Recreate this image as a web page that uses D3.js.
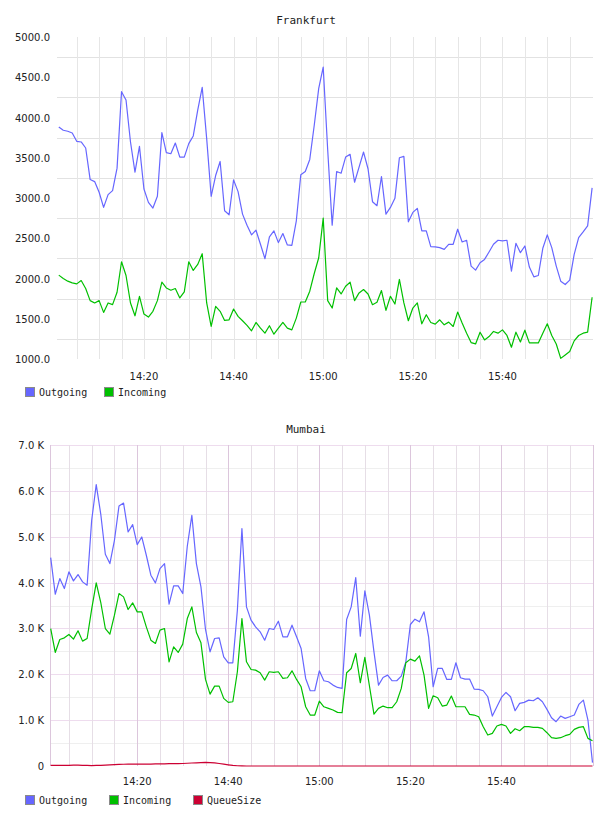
<!DOCTYPE html>
<html>
<head>
<meta charset="utf-8">
<script src="https://cdn.jsdelivr.net/npm/d3@7/dist/d3.min.js"></script>
<style>
body { margin: 0; background: #fff; }
</style>
</head>
<body>
<svg id="chart"></svg>
<script>
var parseTime = d3.utcParse("%H:%M:%S");

// one sample per minute, 14:01 .. 16:00
var sampleTimes = d3.utcMinute.range(parseTime("14:01:00"), parseTime("16:01:00"));
var timeLabels = ["14:20", "14:40", "15:00", "15:20", "15:40"];

var frankfurtTicks = [1000, 1500, 2000, 2500, 3000, 3500, 4000, 4500, 5000];
var frankfurtGrid = [1250, 1750, 2250, 2750, 3250, 3750, 4250, 4750];
var mumbaiTicks = [0, 1000, 2000, 3000, 4000, 5000, 6000, 7000];
var mumbaiMinorGrid = [500, 1500, 2500, 3500, 4500, 5500, 6500];

var frankfurtOutgoing = [
	3883, 3842, 3829, 3808, 3704, 3696, 3621, 3229, 3204, 3071,
	2883, 3042, 3092, 3371, 4321, 4217, 3696, 3321, 3642, 3112,
	2946, 2875, 3021, 3813, 3563, 3550, 3683, 3508, 3508, 3675,
	3771, 4092, 4375, 3738, 3021, 3279, 3454, 2842, 2792, 3225,
	3079, 2800, 2662, 2542, 2600, 2425, 2246, 2517, 2592, 2446,
	2558, 2417, 2412, 2717, 3288, 3329, 3479, 3904, 4362, 4625,
	3600, 2662, 3329, 3308, 3508, 3542, 3196, 3383, 3571, 3363,
	2954, 2904, 3267, 2800, 2883, 2996, 3500, 3517, 2704, 2821,
	2871, 2592, 2592, 2396, 2392, 2383, 2362, 2425, 2425, 2612,
	2454, 2475, 2154, 2104, 2196, 2237, 2329, 2425, 2475, 2467,
	2475, 2092, 2437, 2321, 2404, 2142, 2021, 2037, 2375, 2542,
	2383, 2154, 1967, 1925, 1979, 2300, 2508, 2579, 2654, 3125
];
var frankfurtIncoming = [
	2042, 2000, 1967, 1946, 1933, 1975, 1875, 1725, 1696, 1725,
	1579, 1696, 1675, 1829, 2208, 2037, 1696, 1537, 1779, 1558,
	1521, 1592, 1725, 1954, 1883, 1854, 1875, 1758, 1833, 2208,
	2100, 2175, 2308, 1696, 1404, 1654, 1592, 1479, 1487, 1621,
	1529, 1475, 1417, 1350, 1454, 1383, 1321, 1413, 1308, 1383,
	1454, 1383, 1362, 1508, 1708, 1708, 1842, 2062, 2258, 2750,
	1725, 1633, 1883, 1808, 1904, 1954, 1725, 1821, 1863, 1808,
	1675, 1704, 1850, 1604, 1779, 1683, 1988, 1696, 1475, 1633,
	1696, 1437, 1550, 1454, 1433, 1487, 1425, 1458, 1404, 1583,
	1446, 1321, 1204, 1187, 1333, 1237, 1279, 1342, 1321, 1362,
	1292, 1146, 1333, 1212, 1358, 1200, 1200, 1200, 1321, 1437,
	1292, 1187, 1008, 1050, 1092, 1225, 1292, 1321, 1333, 1767
];

var mumbaiOutgoing = [
	4545, 3746, 4087, 3870, 4233, 4037, 4175, 4015, 3942, 5358,
	6135, 5489, 4617, 4414, 4922, 5670, 5735, 5104, 5264, 4828,
	4995, 4596, 4160, 3993, 4305, 4414, 3528, 3928, 3928, 3761,
	4792, 5467, 4414, 3906, 2977, 2490, 2781, 2795, 2381, 2251,
	2251, 3398, 5176, 3470, 3180, 3035, 2926, 2744, 2998, 2977,
	3158, 2817, 2817, 3071, 2817, 2563, 1909, 1641, 1641, 2076,
	1859, 1837, 1764, 1713, 1692, 3194, 3470, 4109, 2831, 3819,
	3289, 2490, 1764, 1931, 1982, 1859, 1859, 1960, 2272, 3086,
	3202, 3144, 3361, 2817, 1728, 2127, 2127, 1888, 1888, 2251,
	1924, 1895, 1895, 1677, 1670, 1641, 1510, 1089, 1292, 1496,
	1604, 1510, 1205, 1365, 1387, 1437, 1423, 1488, 1401, 1234,
	1053, 966, 1089, 1038, 1074, 1111, 1343, 1437, 1002, 73
];
var mumbaiIncoming = [
	2998, 2476, 2759, 2795, 2868, 2766, 2948, 2723, 2781, 3419,
	3993, 3565, 2998, 2875, 3289, 3761, 3688, 3412, 3557, 3361,
	3361, 3035, 2744, 2672, 2962, 2998, 2272, 2599, 2476, 2657,
	3216, 3470, 2911, 2686, 1888, 1568, 1742, 1742, 1474, 1387,
	1401, 2055, 3216, 2272, 2105, 2091, 2033, 1873, 2055, 2040,
	2055, 1909, 1924, 2076, 1888, 1728, 1292, 1111, 1111, 1416,
	1292, 1256, 1220, 1169, 1162, 2033, 2127, 2454, 1815, 2367,
	1750, 1133, 1256, 1307, 1271, 1271, 1401, 1692, 2251, 2330,
	2287, 2403, 1982, 1256, 1532, 1488, 1307, 1329, 1525, 1292,
	1292, 1292, 1125, 1111, 1074, 857, 675, 711, 871, 908,
	871, 711, 813, 770, 857, 857, 842, 842, 820, 726,
	617, 603, 617, 661, 690, 799, 842, 857, 603, 552
];
var mumbaiQueueSize = [
	15, 15, 12, 12, 15, 18, 18, 15, 12, 10,
	12, 15, 20, 25, 30, 35, 38, 40, 42, 42,
	40, 40, 42, 45, 45, 48, 50, 50, 52, 55,
	60, 65, 70, 75, 78, 75, 68, 55, 40, 25,
	12, 5, 2, 0, 0, 0, 0, 0, 0, 0,
	0, 0, 0, 0, 0, 0, 0, 0, 0, 0,
	0, 0, 0, 0, 0, 0, 0, 0, 0, 0,
	0, 0, 0, 0, 0, 0, 0, 0, 0, 0,
	0, 0, 0, 0, 0, 0, 0, 0, 0, 0,
	0, 0, 0, 0, 0, 0, 0, 0, 0, 0,
	0, 0, 0, 0, 0, 0, 0, 0, 0, 0,
	0, 0, 0, 0, 0, 0, 0, 0, 0, 0
];

var colors = { Outgoing: "#6666ff", Incoming: "#00c000", QueueSize: "#cc0033" };

var svg = d3.select("#chart").attr("width", 608).attr("height", 816);

var crisp = function(v) { return Math.round(v) + 0.5; };

var drawSeries = function(g, x, y, values, color) {
	var line = d3.line()
		.x(function(d, i) { return x(sampleTimes[i]); })
		.y(function(d) { return y(d); });
	g.append("path").datum(values)
		.attr("d", line)
		.attr("fill", "none")
		.attr("stroke", color)
		.attr("stroke-width", 1.2)
		.attr("stroke-linejoin", "round");
};

var drawLegend = function(g, names, xs, yc) {
	names.forEach(function(name, i) {
		g.append("rect").attr("x", xs[i] + 0.5).attr("y", yc - 4.5)
			.attr("width", 9).attr("height", 9)
			.attr("fill", colors[name]).attr("stroke", "#8a8a8a");
		g.append("text").attr("x", xs[i] + 14).attr("y", yc + 3.5)
			.attr("font-family", "'DejaVu Sans Mono', monospace")
			.attr("font-size", 10).attr("fill", "#222")
			.text(name);
	});
};

var drawTitle = function(text, yb) {
	svg.append("text").attr("x", 306).attr("y", yb)
		.attr("text-anchor", "middle")
		.attr("font-family", "'DejaVu Sans Mono', monospace")
		.attr("font-size", 11).attr("fill", "#222")
		.text(text);
};

var fiveMinutes = d3.utcMinute.every(5).range(parseTime("14:05:00"), parseTime("16:00:00"));

// ---------- Frankfurt ----------
var fx = d3.scaleUtc()
	.domain([parseTime("14:00:36"), parseTime("16:00:12")])
	.range([57, 593]);
var fy = d3.scaleLinear().domain([1000, 5000]).range([359, 37]);

var frankfurtG = svg.append("g");
drawTitle("Frankfurt", 24);

frankfurtG.selectAll(".hgrid").data(frankfurtGrid).enter().append("line")
	.attr("x1", 57).attr("x2", 593)
	.attr("y1", function(d) { return crisp(fy(d)); })
	.attr("y2", function(d) { return crisp(fy(d)); })
	.attr("stroke", "#e2e2e2");
frankfurtG.selectAll(".vgrid").data(fiveMinutes).enter().append("line")
	.attr("x1", function(d) { return crisp(fx(d)); })
	.attr("x2", function(d) { return crisp(fx(d)); })
	.attr("y1", 37).attr("y2", 359)
	.attr("stroke", "#e6e6e6");

frankfurtG.selectAll(".ylab").data(frankfurtTicks).enter().append("text")
	.attr("x", 50).attr("y", function(d) { return fy(d) + 4; })
	.attr("text-anchor", "end")
	.attr("font-family", "'DejaVu Sans', sans-serif")
	.attr("font-size", 10).attr("fill", "#222")
	.text(function(d) { return d3.format(".1f")(d); });
frankfurtG.selectAll(".xlab").data(timeLabels).enter().append("text")
	.attr("x", function(d) { return fx(parseTime(d + ":00")); })
	.attr("y", 380)
	.attr("text-anchor", "middle")
	.attr("font-family", "'DejaVu Sans', sans-serif")
	.attr("font-size", 10).attr("fill", "#222")
	.text(function(d) { return d; });

drawSeries(frankfurtG, fx, fy, frankfurtOutgoing, colors.Outgoing);
drawSeries(frankfurtG, fx, fy, frankfurtIncoming, colors.Incoming);
drawLegend(frankfurtG, ["Outgoing", "Incoming"], [25, 104], 392);

// ---------- Mumbai ----------
var mx = d3.scaleUtc()
	.domain([parseTime("14:01:00"), parseTime("16:00:00")])
	.range([50.7, 592.5]);
var my = d3.scaleLinear().domain([0, 7000]).range([766, 445]);

var mumbaiG = svg.append("g");
drawTitle("Mumbai", 433);

mumbaiG.selectAll(".hminor").data(mumbaiMinorGrid).enter().append("line")
	.attr("x1", 51).attr("x2", 593)
	.attr("y1", function(d) { return crisp(my(d)); })
	.attr("y2", function(d) { return crisp(my(d)); })
	.attr("stroke", "#efefef");
mumbaiG.selectAll(".hmajor").data(mumbaiTicks.slice(1)).enter().append("line")
	.attr("x1", 51).attr("x2", 593)
	.attr("y1", function(d) { return crisp(my(d)); })
	.attr("y2", function(d) { return crisp(my(d)); })
	.attr("stroke", "#eedcee");
mumbaiG.selectAll(".vgrid").data(fiveMinutes).enter().append("line")
	.attr("x1", function(d) { return crisp(mx(d)); })
	.attr("x2", function(d) { return crisp(mx(d)); })
	.attr("y1", 445).attr("y2", 766)
	.attr("stroke", function(d) { return d.getUTCMinutes() % 20 === 0 ? "#dcc6dc" : "#e6dee6"; });
mumbaiG.selectAll(".border").data([50, 593]).enter().append("line")
	.attr("x1", function(d) { return d + 0.5; })
	.attr("x2", function(d) { return d + 0.5; })
	.attr("y1", 445).attr("y2", 766)
	.attr("stroke", "#dcc6dc");

mumbaiG.selectAll(".ylab").data(mumbaiTicks).enter().append("text")
	.attr("x", 44).attr("y", function(d) { return my(d) + 4; })
	.attr("text-anchor", "end")
	.attr("font-family", "'DejaVu Sans', sans-serif")
	.attr("font-size", 10).attr("fill", "#222")
	.text(function(d) { return d === 0 ? "0" : d3.format(".1f")(d / 1000) + " K"; });
mumbaiG.selectAll(".xlab").data(timeLabels).enter().append("text")
	.attr("x", function(d) { return mx(parseTime(d + ":00")); })
	.attr("y", 785)
	.attr("text-anchor", "middle")
	.attr("font-family", "'DejaVu Sans', sans-serif")
	.attr("font-size", 10).attr("fill", "#222")
	.text(function(d) { return d; });

drawSeries(mumbaiG, mx, my, mumbaiOutgoing, colors.Outgoing);
drawSeries(mumbaiG, mx, my, mumbaiIncoming, colors.Incoming);
drawSeries(mumbaiG, mx, my, mumbaiQueueSize, colors.QueueSize);
drawLegend(mumbaiG, ["Outgoing", "Incoming", "QueueSize"], [25, 109, 193], 800);
</script>
</body>
</html>
